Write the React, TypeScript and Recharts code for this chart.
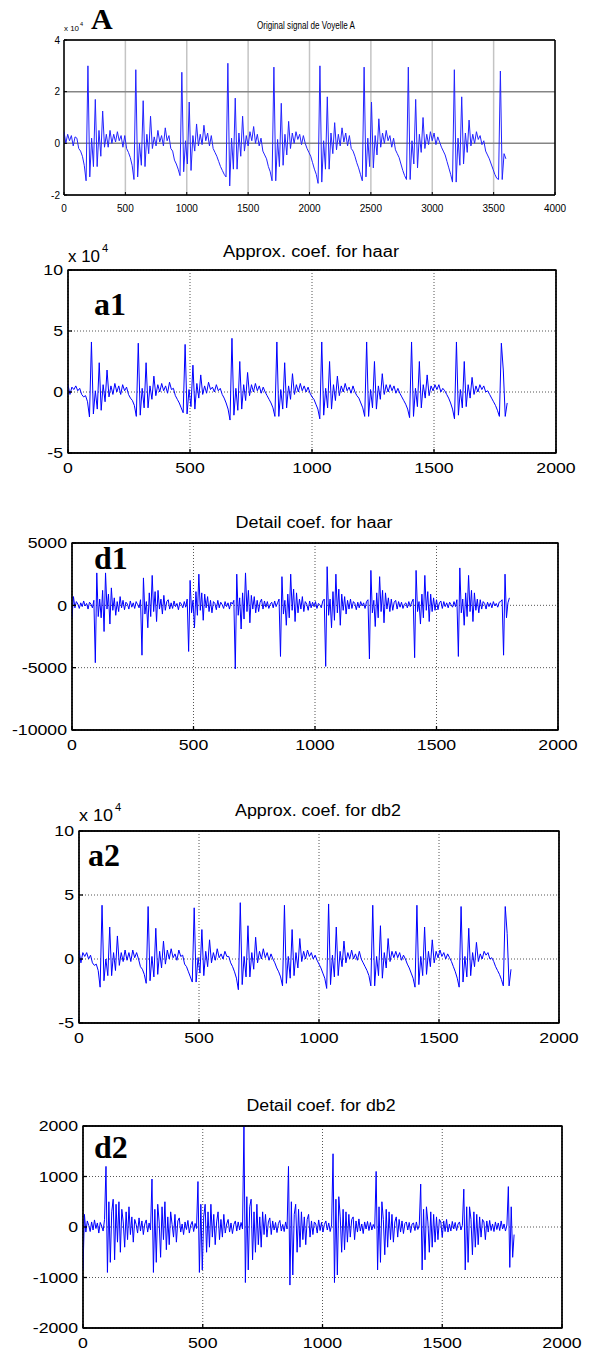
import React from "react";
import { LineChart, Line, XAxis, YAxis, CartesianGrid, ReferenceArea } from "recharts";

// Original vowel signal, one value every 15 samples (units of 1e4)
const SIGNAL_STEP = 15;
const SIGNAL_VALUES = [
  0.45, 0.0, 0.35, 0.1, 0.3, -0.1, 0.25, 0.2, -0.2, -0.3, -0.5, -0.85, -1.45,
  3.0,
  -1.3, 0.2, -0.9, 1.7, -0.9, 0.5, -0.5, 1.25, -0.15, 0.35, -0.15, 0.5, 0.0, 0.35, 0.05, 0.45, 0.1, 0.3, -0.15, 0.3, -0.2, -0.35, -0.55, -0.85, -1.4,
  2.85,
  -1.3, 0.0, -0.85, 1.65, -0.9, 0.35, -0.4, 1.05, -0.2, 0.25, -0.1, 0.5, 0.05, 0.3, -0.1, 0.6, 0.1, 0.3, -0.2, -0.3, -0.65, -0.8, -1.0, -1.25,
  2.75,
  -1.1, 0.1, -0.8, 1.6, -1.05, 0.3, -0.3, 0.75, -0.1, 0.35, -0.05, 0.7, 0.1, 0.4, -0.1, 0.3, -0.2, -0.35, -0.5, -0.7, -0.9, -1.05, -1.2, -1.3,
  3.1,
  -1.65, 0.2, -1.0, 1.75, -1.0, 0.4, -0.5, 1.05, -0.3, 0.3, -0.1, 0.45, 0.1, 0.65, 0.0, 0.35, -0.1, 0.2, -0.3, -0.45, -0.6, -0.9, -1.1, -1.45,
  2.95,
  -1.45, 0.15, -0.9, 1.55, -0.85, 0.35, -0.45, 0.85, -0.2, 0.4, 0.0, 0.45, 0.15, 0.35, -0.05, 0.3, 0.0, -0.2, -0.35, -0.5, -0.75, -1.0, -1.2, -1.55,
  3.0,
  -1.5, 0.1, -1.0, 1.8, -1.0, 0.4, -0.4, 0.8, -0.25, 0.35, -0.1, 0.6, 0.05, 0.4, -0.1, 0.3, -0.2, -0.3, -0.5, -0.75, -0.95, -1.2, -1.45,
  2.95,
  -1.3, 0.2, -0.9, 1.6, -0.95, 0.3, -0.45, 0.95, -0.15, 0.4, 0.0, 0.5, 0.1, 0.3, -0.15, 0.2, -0.25, -0.4, -0.55, -0.8, -1.05, -1.25, -1.4,
  2.95,
  -1.4, 0.1, -0.8, 1.7, -0.95, 0.35, -0.35, 1.0, -0.2, 0.35, -0.05, 0.45, 0.1, 0.4, -0.05, 0.25, 0.05, -0.15, -0.3, -0.45, -0.7, -0.95, -1.2, -1.5,
  2.85,
  -1.5, 0.2, -0.85, 1.8, -0.8, 0.4, -0.35, 0.9, -0.1, 0.35, 0.0, 0.45, 0.15, 0.3, -0.05, 0.1, -0.3, -0.45, -0.6, -0.8, -1.0, -1.2, -1.35, -1.4,
  2.8,
  -1.4, -0.4, -0.6,
];

// Level-1 approximation coefficients, one value every 8 coefficients (units of 1e4)
const APPROX_STEP = 8;
const HAAR_APPROX = [
  0.6, -0.2, 0.4, 0.2, 0.5, 0.1, 0.3, -0.2, -0.4, -0.3, -0.8, -2.05,
  4.1,
  -1.8, 0.1, -1.4, 2.4, -1.5, 0.6, -0.8, 1.8, -0.4, 0.5, -0.2, 0.7, 0.0, 0.5, -0.2, 0.6, 0.1, 0.4, -0.2, -0.5, -0.7, -1.1, -2.0,
  4.0,
  -1.9, 0.3, -1.3, 2.4, -1.3, 0.5, -0.6, 1.3, -0.3, 0.6, 0.0, 0.7, 0.1, 0.5, -0.1, 0.8, 0.2, 0.3, -0.3, -0.6, -0.9, -1.3, -1.7,
  3.9,
  -1.8, 0.2, -1.2, 2.2, -1.4, 0.7, -0.5, 1.4, -0.2, 0.5, -0.1, 0.8, 0.2, 0.4, 0.0, 0.6, 0.1, 0.3, -0.2, -0.5, -0.9, -1.4, -2.3,
  4.4,
  -1.9, 0.3, -1.5, 2.5, -1.4, 0.6, -0.7, 1.6, -0.3, 0.6, 0.0, 0.7, 0.1, 0.5, -0.1, 0.4, 0.0, -0.3, -0.6, -0.9, -1.3, -2.0,
  4.1,
  -2.0, 0.2, -1.4, 2.4, -1.3, 0.5, -0.6, 1.5, -0.2, 0.6, 0.0, 0.7, 0.1, 0.5, 0.0, 0.4, -0.1, -0.4, -0.6, -1.0, -1.4, -2.2,
  4.1,
  -1.9, 0.3, -1.3, 2.5, -1.4, 0.6, -0.7, 1.3, -0.3, 0.5, 0.0, 0.7, 0.1, 0.4, -0.1, 0.5, 0.0, -0.3, -0.5, -0.9, -1.3, -2.0,
  4.1,
  -2.0, 0.2, -1.3, 2.5, -1.4, 0.5, -0.6, 1.5, -0.2, 0.6, 0.0, 0.6, 0.1, 0.5, -0.1, 0.3, -0.1, -0.4, -0.7, -1.0, -1.4, -2.1,
  4.1,
  -2.0, 0.3, -1.2, 2.5, -1.3, 0.6, -0.5, 1.4, -0.3, 0.5, 0.1, 0.6, 0.2, 0.6, 0.0, 0.3, 0.1, -0.2, -0.5, -0.9, -1.4, -2.2,
  4.1,
  -1.9, 0.2, -1.3, 2.5, -1.2, 0.6, -0.5, 1.2, -0.2, 0.5, 0.0, 0.6, 0.2, 0.5, 0.0, 0.1, -0.2, -0.5, -0.8, -1.1, -1.5, -2.0,
  4.0,
  1.8, -2.0, -0.9,
];

const DB2_APPROX = [
  0.7, -0.3, 0.5, 0.2, 0.5, 0.0, 0.3, -0.3, -0.5, -0.4, -0.9, -2.2,
  4.2,
  -1.7, 0.0, -1.3, 2.5, -1.3, 0.5, -0.9, 1.8, -0.5, 0.5, -0.2, 0.7, -0.1, 0.5, -0.2, 0.7, 0.1, 0.5, 0.0, -0.6, -0.8, -1.2, -1.9,
  4.1,
  -1.7, 0.2, -1.4, 2.4, -1.2, 0.6, -0.7, 1.4, -0.4, 0.7, 0.0, 0.8, 0.1, 0.4, -0.1, 0.7, 0.2, 0.3, -0.4, -0.6, -1.0, -1.4, -1.8,
  4.0,
  -1.8, 0.1, -1.1, 2.3, -1.3, 0.6, -0.6, 1.5, -0.3, 0.5, -0.1, 0.8, 0.1, 0.4, 0.0, 0.6, 0.2, 0.2, -0.3, -0.6, -1.0, -1.5, -2.4,
  4.4,
  -2.0, 0.2, -1.4, 2.6, -1.4, 0.5, -0.8, 1.7, -0.3, 0.6, 0.0, 0.8, 0.1, 0.5, -0.1, 0.4, 0.0, -0.3, -0.7, -1.0, -1.4, -2.1,
  4.2,
  -1.9, 0.2, -1.5, 2.3, -1.3, 0.5, -0.7, 1.6, -0.2, 0.6, 0.0, 0.7, 0.2, 0.5, 0.0, 0.3, -0.1, -0.4, -0.7, -1.1, -1.5, -2.3,
  4.3,
  -2.0, 0.3, -1.4, 2.5, -1.3, 0.6, -0.6, 1.4, -0.3, 0.5, 0.0, 0.7, 0.0, 0.4, -0.1, 0.6, 0.0, -0.3, -0.6, -0.9, -1.3, -2.1,
  4.2,
  -2.1, 0.2, -1.3, 2.6, -1.5, 0.5, -0.7, 1.6, -0.2, 0.6, 0.1, 0.6, 0.1, 0.5, -0.1, 0.3, 0.0, -0.4, -0.7, -1.1, -1.5, -2.2,
  4.2,
  -2.0, 0.2, -1.3, 2.5, -1.2, 0.6, -0.6, 1.5, -0.3, 0.6, 0.1, 0.7, 0.2, 0.5, 0.0, 0.4, 0.1, -0.2, -0.6, -1.0, -1.5, -2.2,
  4.1,
  -1.8, 0.2, -1.4, 2.4, -1.3, 0.5, -0.6, 1.3, -0.2, 0.4, 0.0, 0.6, 0.3, 0.5, 0.0, 0.1, -0.2, -0.6, -0.9, -1.2, -1.6, -2.1,
  4.1,
  2.0, -2.1, -0.8,
];

// Level-1 detail coefficients, one value every 6 coefficients (raw units)
const DETAIL_STEP = 6;
const HAAR_DETAIL = [
  -1000, 700, -200, 300, 100, -250, 200, -100, 350, -50, 150, -300, 250, 100, -200, 400,
  -4600,
  2600, -900, 500, -1000, 1200, -2100, 2600, -300, 900, -1500, 1400, -400, 600, -800, 300, -500, 700, -200, 400, -350, 250, 100, -300, 350, -150, 200, -250, 300, 50, -200, 450,
  -4000,
  2200, -700, 300, -1800, 1000, -900, 2400, -500, 1100, -1300, 1200, -300, 500, -700, 800, -400, 300, 450, -300, 200, -250, 350, -100, 150, -350, 250, 100, -200, 300, -150, 500,
  -3700,
  2000, -600, 400, -1800, 1100, -800, 2500, -400, 1000, -1200, 900, -200, 700, -500, 400, -600, 300, 150, -350, 400, -200, 250, 50, -250, 300, -100, 200, -300, 250, 100, 400,
  -5100,
  2500, -800, 600, -1900, 1000, -1100, 2600, -500, 1200, -1400, 800, -300, 700, -600, 400, -500, 250, 500, -300, 350, -150, 300, -250, 100, 250, -200, 350, -100, 200, 500,
  -4100,
  2300, -700, 400, -1600, 900, -1000, 2500, -400, 1300, -1300, 1000, -600, 500, -300, 700, -500, 300, 100, -400, 350, -200, 250, -100, 300, -250, 150, 50, -200, 350, 500,
  -4900,
  3100, -800, 500, -1800, 1100, -1200, 2500, -600, 1300, -1600, 900, -400, 700, -700, 400, -300, 500, -250, 300, 150, -350, 250, -200, 300, -50, 200, -250, 300, 450,
  -4300,
  2800, -600, 400, -1700, 1000, -1000, 2300, -500, 1200, -1400, 1000, -300, 600, -500, 500, -400, 250, 400, -300, 300, -150, 250, -250, 100, 200, -200, 300, -100, 250, 500,
  -4200,
  2800, -500, 300, -1500, 900, -1000, 2400, -400, 1100, -1300, 900, -500, 600, -400, 450, -350, 200, 350, -250, 300, -100, 200, -200, 250, 50, -150, 300, -100, 450,
  -4100,
  3000, -600, 500, -1600, 1000, -900, 2400, -500, 1200, -1300, 1000, -400, 500, -600, 450, -300, 300, 150, -300, 250, -100, 200, -200, 300, -50, 150, -150, 250, 300, 450,
  -4000,
  2500, -1000, 200, 600,
];

const DB2_DETAIL = [
  -850, 250, -100, 120, 30, -90, 100, -60, 140, -30, 80, -120, 90, 20, -80, 150,
  1200,
  -900, 500, -700, 300, 550, -650, 450, -300, 500, -500, 350, 100, -400, 300, -250, 400, -150, 200, -300, 150, 50, -120, 180, -80, 120, -150, 60, 140, -100, 80, -60,
  950,
  -900, 350, -700, 450, 100, -600, 400, -250, 500, -450, 200, -350, 300, 50, -200, 250, -300, 120, 180, -100, 60, -150, 100, -50, 130, -120, 40, 110, -90, 70, -30,
  900,
  -900, 450, -850, 200, 450, -500, 300, -400, 450, -200, 250, -350, 100, 300, -250, 150, -200, 250, -120, 60, 150, -100, 80, -130, 50, 120, -80, 100, -60, 90, -40,
  2000,
  -1100, 600, -850, 400, 550, -650, 300, -500, 450, -350, 200, -400, 300, -150, 250, -200, 100, 180, -150, 120, -60, 90, -110, 70, 130, -80, 50, -90, 100, -40,
  1200,
  -1150, 500, -950, 250, 450, -500, 350, -400, 300, -250, 200, -350, 150, 250, -200, 120, -150, 100, 60, -120, 140, -70, 90, -100, 50, 120, -60, 80, -90, 40,
  1450,
  -1100, 550, -950, 600, 200, -500, 350, -450, 300, -300, 250, -200, 150, 200, -250, 120, -100, 160, -80, 60, -130, 100, -40, 110, -70, 90, -60, 50, -30,
  1100,
  -850, 400, -700, 500, 150, -550, 350, -400, 300, -250, 250, -300, 100, 200, -200, 150, -100, 120, -130, 70, 100, -60, 90, -110, 60, 80, -70, 100, -50, 40,
  850,
  -850, 350, -650, 400, 100, -500, 300, -400, 250, -300, 200, -250, 150, 100, -200, 120, -90, 150, -100, 60, -80, 110, -40, 90, -70, 60, 100, -60, 30,
  750,
  -850, 400, -700, 400, 150, -550, 300, -400, 250, -350, 200, -200, 150, 100, -250, 120, -100, 130, -70, 60, -90, 100, -50, 80, -70, 120, -40, 60, -80, 40,
  800,
  -800, 400, -600, -150,
];

// Axis ticks
const SIGNAL_X_TICKS = [0, 500, 1000, 1500, 2000, 2500, 3000, 3500, 4000];
const SIGNAL_Y_TICKS = [-2, 0, 2, 4];
const COEF_X_TICKS = [0, 500, 1000, 1500, 2000];
const APPROX_Y_TICKS = [-5, 0, 5, 10];
const HAAR_DETAIL_Y_TICKS = [-10000, -5000, 0, 5000];
const DB2_DETAIL_Y_TICKS = [-2000, -1000, 0, 1000, 2000];

const PAGE_W = 591;
const PAGE_H = 1356;
const M_TOP = 12;
const X_AXIS_H = 34;
const SANS = "'Liberation Sans', Arial, Helvetica, sans-serif";
const SERIF = "'Liberation Serif', 'Times New Roman', Times, serif";

type Box = { left: number; top: number; right: number; bottom: number };

interface PanelProps {
  values: number[];
  step: number;
  box: Box;
  xTicks: number[];
  yTicks: number[];
  small?: boolean;
}

const renderTick = (p: any, fontSize: number, sx: number, side: "bottom" | "left") => {
  const { x, y, payload, textAnchor } = p;
  return (
    <text
      transform={`translate(${x},${y}) scale(${sx},1)`}
      textAnchor={textAnchor}
      dy={side === "bottom" ? fontSize * 0.72 : fontSize * 0.36}
      fontSize={fontSize}
      fontFamily={SANS}
      fill="#000"
    >
      {payload.value}
    </text>
  );
};

const Panel: React.FC<PanelProps> = ({ values, step, box, xTicks, yTicks, small }) => {
  const data = values.map((v, i) => ({ x: i * step, y: v }));
  const boxH = box.bottom - box.top;
  const tickLen = small ? 3 : 4;
  const fs = small ? 10 : 15;
  const sx = small ? 1 : 1.18;
  const lw = small ? 1 : 1.3;
  const axisStroke = { stroke: "#000", strokeWidth: lw };
  const xDomain: [number, number] = [xTicks[0], xTicks[xTicks.length - 1]];
  const yDomain: [number, number] = [yTicks[0], yTicks[yTicks.length - 1]];

  return (
    <div style={{ position: "absolute", left: 0, top: box.top - M_TOP }}>
      <LineChart
        width={PAGE_W}
        height={M_TOP + boxH + X_AXIS_H}
        data={data}
        margin={{ top: M_TOP - 1, right: PAGE_W - box.right - 1, bottom: 0, left: 0 }}
      >
        {small && <CartesianGrid horizontal={false} stroke="#c4c4c4" strokeWidth={1.5} />}
        {small && <CartesianGrid vertical={false} stroke="#858585" strokeWidth={1.5} />}
        {!small && <CartesianGrid stroke="#555" strokeDasharray="1 2" />}
        <XAxis
          dataKey="x"
          type="number"
          domain={xDomain}
          ticks={xTicks}
          interval={0}
          allowDataOverflow
          height={X_AXIS_H}
          axisLine={axisStroke}
          tickLine={axisStroke}
          tickSize={-tickLen}
          tickMargin={tickLen + (small ? 10 : 9)}
          tick={(p: any) => renderTick(p, fs, sx, "bottom")}
        />
        <XAxis
          xAxisId="top"
          orientation="top"
          dataKey="x"
          type="number"
          domain={xDomain}
          ticks={xTicks}
          interval={0}
          allowDataOverflow
          height={1}
          axisLine={axisStroke}
          tickLine={axisStroke}
          tickSize={-tickLen}
          tick={false}
        />
        <YAxis
          type="number"
          domain={yDomain}
          ticks={yTicks}
          interval={0}
          allowDataOverflow
          width={box.left}
          axisLine={axisStroke}
          tickLine={axisStroke}
          tickSize={-tickLen}
          tickMargin={tickLen + (small ? 4 : 5)}
          tick={(p: any) => renderTick(p, fs, sx, "left")}
        />
        <YAxis
          yAxisId="right"
          orientation="right"
          type="number"
          domain={yDomain}
          ticks={yTicks}
          interval={0}
          allowDataOverflow
          width={1}
          axisLine={axisStroke}
          tickLine={axisStroke}
          tickSize={-tickLen}
          tick={false}
        />
        <Line
          type="linear"
          dataKey="y"
          stroke={small ? "#2323ff" : "#0000ff"}
          strokeWidth={1}
          dot={false}
          activeDot={false}
          isAnimationActive={false}
        />
        {/* axes box */}
        <ReferenceArea
          x1={xDomain[0]}
          x2={xDomain[1]}
          y1={yDomain[0]}
          y2={yDomain[1]}
          fill="none"
          stroke="#000"
          strokeWidth={lw}
          ifOverflow="visible"
        />
      </LineChart>
    </div>
  );
};

const Title = ({ x, y, w, size, children }: { x: number; y: number; w: number; size: number; children: React.ReactNode }) => (
  <text x={x} y={y} textAnchor="middle" fontFamily={SANS} fontSize={size} textLength={w} lengthAdjust="spacingAndGlyphs" fill="#000">
    {children}
  </text>
);

const Tag = ({ x, y, children }: { x: number; y: number; children: React.ReactNode }) => (
  <text x={x} y={y} fontFamily={SERIF} fontWeight="bold" fontSize={32} fill="#000">
    {children}
  </text>
);

const Scale = ({ x, y, size, w }: { x: number; y: number; size: number; w: number }) => (
  <g fontFamily={SANS} fill="#000">
    <text x={x} y={y} fontSize={size} textLength={w} lengthAdjust="spacingAndGlyphs">x 10</text>
    <text x={x + w + size * 0.12} y={y - size * 0.6} fontSize={size * 0.7}>4</text>
  </g>
);

export default function App() {
  return (
    <div style={{ position: "absolute", left: 0, top: 0, width: PAGE_W, height: PAGE_H, background: "#fff" }}>
      <Panel values={SIGNAL_VALUES} step={SIGNAL_STEP} box={{ left: 64, top: 40, right: 555, bottom: 195 }}
        xTicks={SIGNAL_X_TICKS} yTicks={SIGNAL_Y_TICKS} small />
      <Panel values={HAAR_APPROX} step={APPROX_STEP} box={{ left: 68, top: 270, right: 556, bottom: 453 }}
        xTicks={COEF_X_TICKS} yTicks={APPROX_Y_TICKS} />
      <Panel values={HAAR_DETAIL} step={DETAIL_STEP} box={{ left: 72, top: 543, right: 558, bottom: 730 }}
        xTicks={COEF_X_TICKS} yTicks={HAAR_DETAIL_Y_TICKS} />
      <Panel values={DB2_APPROX} step={APPROX_STEP} box={{ left: 79, top: 831, right: 559, bottom: 1023 }}
        xTicks={COEF_X_TICKS} yTicks={APPROX_Y_TICKS} />
      <Panel values={DB2_DETAIL} step={DETAIL_STEP} box={{ left: 83, top: 1126, right: 562, bottom: 1328 }}
        xTicks={COEF_X_TICKS} yTicks={DB2_DETAIL_Y_TICKS} />

      <svg width={PAGE_W} height={PAGE_H} style={{ position: "absolute", left: 0, top: 0, pointerEvents: "none" }}>
        <Title x={306} y={29} w={98} size={10}>Original signal de Voyelle A</Title>
        <Scale x={64} y={31} size={8} w={15} />
        <text x={91} y={29} fontFamily={SERIF} fontWeight="bold" fontSize={30} fill="#000">A</text>

        <Title x={311} y={257} w={176} size={16}>Approx. coef. for haar</Title>
        <Scale x={68} y={262} size={16} w={32} />
        <Tag x={94} y={315}>a1</Tag>

        <Title x={314} y={528} w={157} size={16}>Detail coef. for haar</Title>
        <Tag x={94} y={569}>d1</Tag>

        <Title x={318} y={816} w={166} size={16}>Approx. coef. for db2</Title>
        <Scale x={79} y={821} size={16} w={34} />
        <Tag x={88} y={866}>a2</Tag>

        <Title x={321} y={1111} w={149} size={16}>Detail coef. for db2</Title>
        <Tag x={94} y={1158}>d2</Tag>
      </svg>
    </div>
  );
}
